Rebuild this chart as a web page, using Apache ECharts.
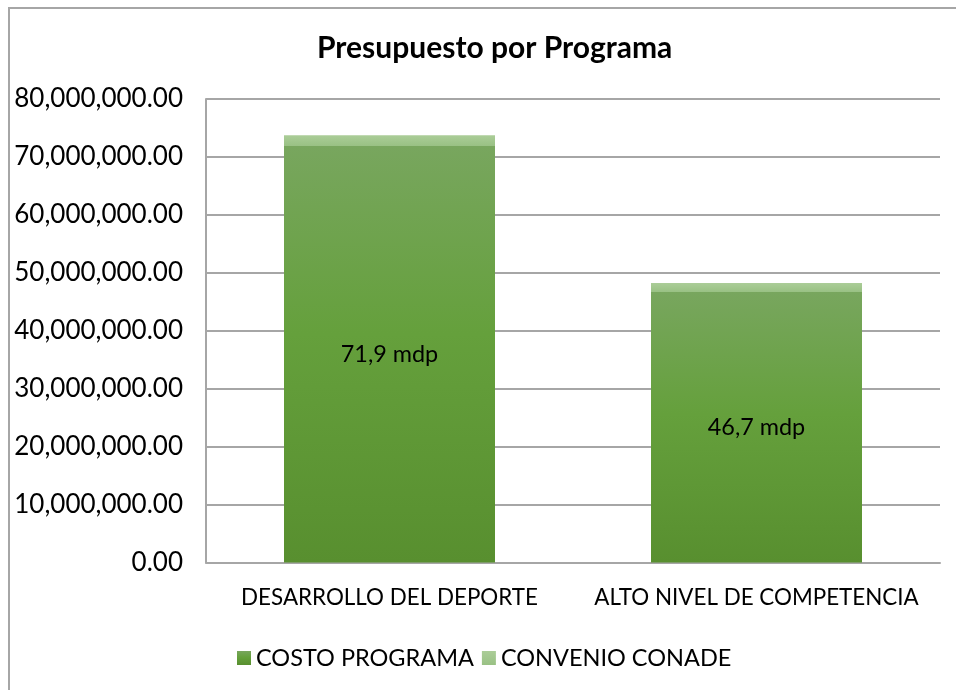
<!DOCTYPE html>
<html>
<head>
<meta charset="utf-8">
<script src="https://cdn.jsdelivr.net/npm/echarts@6/dist/echarts.min.js"></script>
<style>
  html, body { margin: 0; padding: 0; background: #fff; }
  #dom { width: 956px; height: 690px; }
</style>
</head>
<body>
<div id="dom"></div>
<script>
// datos
const categorias = ['DESARROLLO DEL DEPORTE', 'ALTO NIVEL DE COMPETENCIA']
const costoPrograma = [71900000, 46700000]
const convenioConade = [1850000, 1550000]
const serieNombres = ['COSTO PROGRAMA', 'CONVENIO CONADE']
const ejeMin = 0
const ejeMax = 80000000
const ejeIntervalo = 10000000

const FONT = 'Lato'

function fmtEje (v) {
  return v.toLocaleString('en-US', { minimumFractionDigits: 2, maximumFractionDigits: 2 })
}
function fmtMdp (v) {
  return (v / 1000000).toFixed(1).replace('.', ',') + ' mdp'
}

const gradCosto = new echarts.graphic.LinearGradient(0, 0, 0, 1, [
  { offset: 0, color: '#78a65e' },
  { offset: 0.45, color: '#65a03c' },
  { offset: 1, color: '#588f2f' }
])
const gradConvenio = new echarts.graphic.LinearGradient(0, 0, 0, 1, [
  { offset: 0, color: '#abcd98' },
  { offset: 1, color: '#99c184' }
])

const chart = echarts.init(document.getElementById('dom'))
chart.setOption({
  animation: false,
  title: {
    text: 'Presupuesto por Programa',
    left: 312,
    top: 28,
    textStyle: { fontFamily: FONT, fontWeight: 'bold', fontSize: 30, color: '#000' }
  },
  graphic: [{
    type: 'rect',
    shape: { x: 9, y: 8, width: 980, height: 720 },
    style: { fill: 'none', stroke: '#a6a6a6', lineWidth: 2 },
    silent: true
  }],
  legend: {
    left: 232,
    top: 641,
    itemWidth: 14,
    itemHeight: 14,
    itemGap: 8,
    icon: 'rect',
    textStyle: { fontFamily: FONT, fontSize: 23.5, color: '#000', padding: [0, 0, 0, 0] },
    data: serieNombres
  },
  grid: { left: 206, right: 16, top: 99, bottom: 127.5 },
  xAxis: {
    type: 'category',
    data: categorias,
    axisLine: { lineStyle: { color: '#a6a6a6', width: 2 } },
    axisTick: { show: false },
    axisLabel: { fontFamily: FONT, fontSize: 22.4, color: '#000', margin: 24, interval: 0 }
  },
  yAxis: {
    type: 'value',
    min: ejeMin,
    max: ejeMax,
    interval: ejeIntervalo,
    axisLine: { show: true, lineStyle: { color: '#a6a6a6', width: 2 } },
    axisTick: { show: false },
    splitLine: { lineStyle: { color: '#a6a6a6', width: 2 } },
    axisLabel: { fontFamily: FONT, fontSize: 26, color: '#000', margin: 23, formatter: fmtEje }
  },
  series: [
    {
      name: serieNombres[0],
      type: 'bar',
      stack: 'total',
      barWidth: 211,
      data: costoPrograma,
      itemStyle: { color: gradCosto },
      label: {
        show: true,
        position: 'inside',
        formatter: p => fmtMdp(p.value),
        fontFamily: FONT,
        fontSize: 23.4,
        color: '#000'
      }
    },
    {
      name: serieNombres[1],
      type: 'bar',
      stack: 'total',
      barWidth: 211,
      data: convenioConade,
      itemStyle: { color: gradConvenio }
    }
  ]
})
</script>
</body>
</html>
